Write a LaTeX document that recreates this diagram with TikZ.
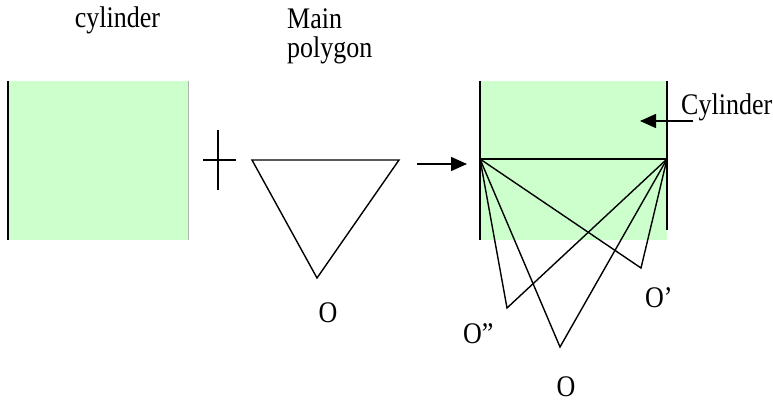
\documentclass[tikz,border=0pt]{standalone}
\usepackage{fontspec}
\setmainfont{Liberation Serif}
\usetikzlibrary{arrows.meta}
\tikzset{
  lbl/.style={inner sep=0pt, font=\fontsize{26}{30}\selectfont},
  edge/.style={line width=1.4pt, black},
  arr/.style={line width=1.4pt, -{Triangle[length=16pt,width=14pt]}},
}
\definecolor{cylgreen}{HTML}{CCFFCC}
\newcommand{\tall}[1]{\scalebox{1}[1.15]{#1}}
\begin{document}
\begin{tikzpicture}[x=1pt,y=-1pt]
\useasboundingbox (0,0) rectangle (773,403);
% left cylinder
\fill[cylgreen] (8,81) rectangle (188,240);
\draw[line width=2pt] (8,81) -- (8,240);
\draw[line width=0.8pt, gray!60] (188,81) -- (188,240);
\node[lbl, anchor=base] (tcyl) at (117.5,28) {\tall{cylinder}};
% plus
\coordinate (ph1) at (203,160); \coordinate (ph2) at (236,160);
\coordinate (pv1) at (218,130); \coordinate (pv2) at (218,190);
\draw[edge] (ph1) -- (ph2);
\draw[edge] (pv1) -- (pv2);
% main polygon
\coordinate (A) at (252,160); \coordinate (B) at (399,160); \coordinate (C) at (317,278);
\draw[edge, line join=miter] (A) -- (B) -- (C) -- cycle;
\node[lbl, anchor=base west] (tmain) at (287,29) {\tall{Main}};
\node[lbl, anchor=base west] (tpoly) at (287,58) {\tall{polygon}};
\node[lbl, anchor=base] (tO1) at (328,322) {\tall{O}};
% arrow
\coordinate (a1) at (417,164); \coordinate (a2) at (467,164);
\draw[arr] (a1) -- (a2);
% right cylinder
\fill[cylgreen] (480,81) rectangle (667,240);
\draw[edge] (480,81) -- (480,240);
\draw[edge] (667,81) -- (667,230);
\coordinate (L) at (480,159); \coordinate (R) at (667,159);
\coordinate (O2) at (507,308); \coordinate (O0) at (560,347); \coordinate (O1) at (641,268);
\draw[edge] (L) -- (R);
\draw[edge, line join=miter] (L) -- (O2) -- (R);
\draw[edge, line join=miter] (L) -- (O0) -- (R);
\draw[edge, line join=miter] (L) -- (O1) -- (R);
\node[lbl, anchor=base west] (tO1p) at (645,307) {\tall{O’}};
\node[lbl, anchor=base west] (tO2p) at (463,343) {\tall{O”}};
\node[lbl, anchor=base] (tO0) at (566,396) {\tall{O}};
\node[lbl, anchor=base west] (tCyl) at (681,115) {\tall{Cylinder}};
\coordinate (c1) at (693,121); \coordinate (c2) at (640,121);
\draw[arr] (c1) -- (c2);
\end{tikzpicture}
\end{document}
